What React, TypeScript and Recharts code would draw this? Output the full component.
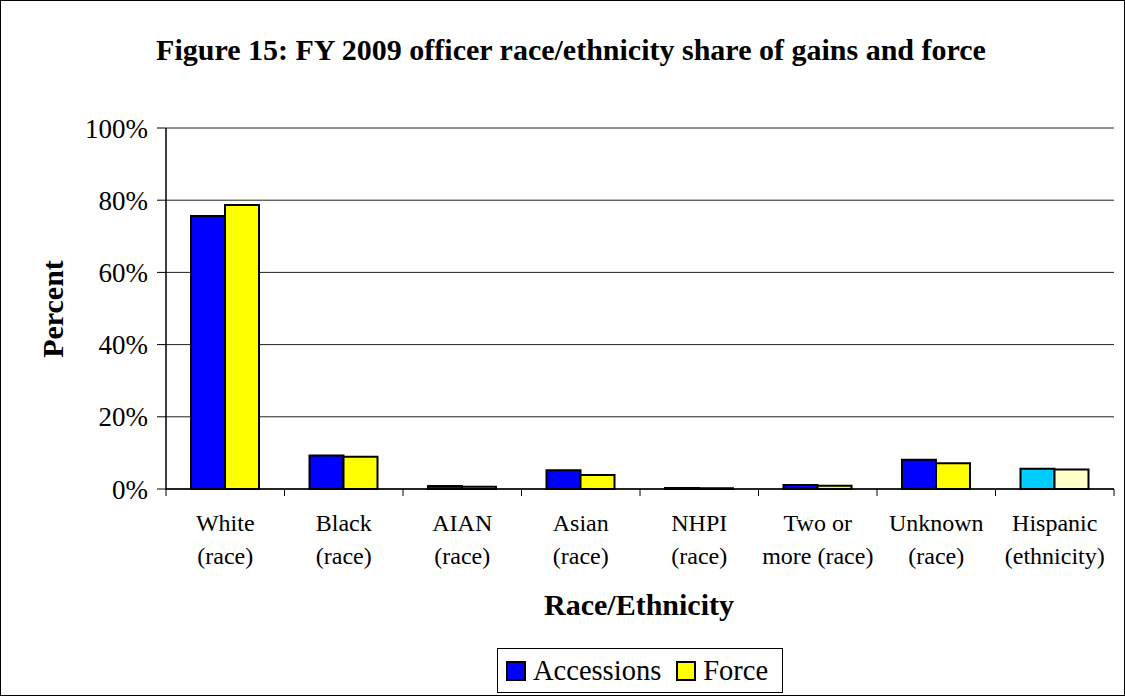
import React from 'react';
import { BarChart, Bar, XAxis, YAxis, CartesianGrid, Cell } from 'recharts';

// ── Data ──────────────────────────────────────────────────────

const CATEGORIES = [
  ['White', '(race)'],
  ['Black', '(race)'],
  ['AIAN', '(race)'],
  ['Asian', '(race)'],
  ['NHPI', '(race)'],
  ['Two or', 'more (race)'],
  ['Unknown', '(race)'],
  ['Hispanic', '(ethnicity)'],
];

const ACCESSIONS = [75.6, 9.3, 0.8, 5.2, 0.3, 1.1, 8.1, 5.6];
const FORCE = [78.7, 8.9, 0.6, 3.9, 0.2, 0.9, 7.1, 5.4];

const Y_TICKS = [0, 20, 40, 60, 80, 100];

const SERIES = [
  { key: 'accessions', name: 'Accessions', color: '#0000FF', ethnicity: '#00CCFF' },
  { key: 'force', name: 'Force', color: '#FFFF00', ethnicity: '#FFFFCC' },
];

const data = CATEGORIES.map((lines, i) => ({
  name: lines.join(' '),
  lines,
  accessions: ACCESSIONS[i],
  force: FORCE[i],
}));

// ── Layout ────────────────────────────────────────────────────

const W = 1125;
const H = 696;
const FONT = '"Liberation Serif", "Times New Roman", serif';
const MARGIN = { top: 128, right: 11, bottom: 127, left: 0 };
const Y_AXIS_W = 166;
const PLOT_W = W - MARGIN.left - MARGIN.right - Y_AXIS_W;

// category label, two lines, plus the tick marks between categories
function CategoryTick(props: any) {
  const { x, y, payload, index } = props;
  const band = PLOT_W / CATEGORIES.length;
  const lines = CATEGORIES[payload.index ?? index] || [];
  return (
    <g>
      {index === 0 && <line x1={x - band / 2} x2={x - band / 2} y1={y} y2={y + 7} stroke="#000" />}
      <line x1={x + band / 2} x2={x + band / 2} y1={y} y2={y + 7} stroke="#000" />
      {lines.map((t: string, i: number) => (
        <text key={i} x={x} y={y + 42 + i * 33} textAnchor="middle" fontFamily={FONT} fontSize={24} fill="#000">
          {t}
        </text>
      ))}
    </g>
  );
}

export default function App() {
  return (
    <div style={{ position: 'absolute', left: 0, top: 0, width: W, height: H, background: '#fff' }}>
      <BarChart
        width={W}
        height={H}
        data={data}
        margin={MARGIN}
        barCategoryGap={25}
        barGap={0}
        style={{ position: 'absolute', left: 0, top: 0 }}
      >
        <CartesianGrid vertical={false} stroke="#222" strokeWidth={1} />
        <XAxis
          dataKey="name"
          height={80}
          interval={0}
          tickLine={false}
          tickSize={0}
          tickMargin={0}
          axisLine={{ stroke: '#000', strokeWidth: 1.5 }}
          tick={<CategoryTick />}
        />
        <YAxis
          width={Y_AXIS_W}
          domain={[0, 100]}
          ticks={Y_TICKS}
          tickFormatter={(v: number) => `${v}%`}
          axisLine={{ stroke: '#000', strokeWidth: 1.5 }}
          tickLine={{ stroke: '#000' }}
          tickSize={9}
          tickMargin={9}
          tick={{ fontFamily: FONT, fontSize: 27, fill: '#000' }}
        />
        {SERIES.map(s => (
          <Bar key={s.key} dataKey={s.key} name={s.name} fill={s.color} stroke="#000" strokeWidth={2} isAnimationActive={false}>
            {data.map((d, i) => (
              <Cell key={i} fill={i === data.length - 1 ? s.ethnicity : s.color} />
            ))}
          </Bar>
        ))}
      </BarChart>

      {/* Title */}
      <div style={{ position: 'absolute', left: 0, width: 1142, top: 35, textAlign: 'center', fontFamily: FONT, fontWeight: 'bold', fontSize: 30, lineHeight: '30px', whiteSpace: 'nowrap' }}>
        Figure 15: FY 2009 officer race/ethnicity share of gains and force
      </div>

      {/* Y axis title */}
      <div style={{ position: 'absolute', left: 53, top: 309, transform: 'translate(-50%, -50%) rotate(-90deg)', whiteSpace: 'nowrap', fontFamily: FONT, fontWeight: 'bold', fontSize: 30, lineHeight: '30px' }}>
        Percent
      </div>

      {/* X axis title */}
      <div style={{ position: 'absolute', left: 639, top: 605, transform: 'translate(-50%, -50%)', whiteSpace: 'nowrap', fontFamily: FONT, fontWeight: 'bold', fontSize: 30, lineHeight: '30px' }}>
        Race/Ethnicity
      </div>

      {/* Legend */}
      <div style={{ position: 'absolute', left: 497, top: 648, width: 286, height: 45, boxSizing: 'border-box', border: '1px solid #000', display: 'flex', alignItems: 'center', paddingLeft: 8, fontFamily: FONT, fontSize: 28.5 }}>
        {SERIES.map((s, i) => (
          <div key={s.key} style={{ display: 'flex', alignItems: 'center', marginLeft: i === 0 ? 0 : 15 }}>
            <span style={{ display: 'inline-block', width: 20, height: 20, boxSizing: 'border-box', border: '2px solid #000', background: s.color, marginRight: 7 }} />
            <span style={{ lineHeight: '30px' }}>{s.name}</span>
          </div>
        ))}
      </div>

      {/* Outer frame */}
      <div style={{ position: 'absolute', left: 0, top: 0, width: W, height: H, boxSizing: 'border-box', border: '1px solid #000', pointerEvents: 'none' }} />
    </div>
  );
}
